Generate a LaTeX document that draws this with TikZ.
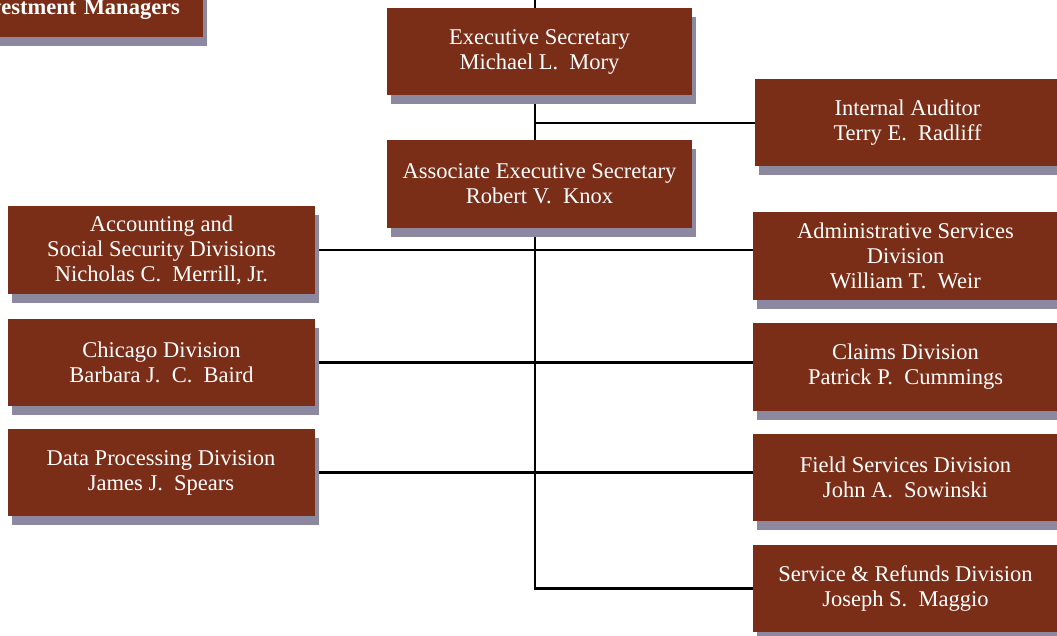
\documentclass[tikz,border=0pt]{standalone}
\usepackage{fontspec}
\setmainfont{Liberation Serif}
\usetikzlibrary{shadows,backgrounds}
\definecolor{boxbrown}{RGB}{122,46,24}
\definecolor{shadowgray}{RGB}{140,136,160}
\tikzset{
  orgbox/.style={rectangle, fill=boxbrown, text=white, align=center,
    minimum width=305pt, minimum height=87pt, inner sep=4pt,
    font=\fontsize{22.5}{25}\selectfont,
    drop shadow={shadow xshift=4pt, shadow yshift=-9pt, fill=shadowgray, opacity=1}},
  orgline/.style={line width=2.6pt, black}
}
\begin{document}
\begin{tikzpicture}[x=1pt, y=-1pt]
\path[use as bounding box, clip] (0,0) rectangle (1057,636);
\path (30,10) node[orgbox, text width=300pt, inner xsep=23pt, align=right, minimum height=54pt,
  font=\bfseries\fontsize{22.5}{25}\selectfont] (inv) {Investment Managers};
\path (539.5,51.5) node[orgbox] (exec) {Executive Secretary\\Michael L.\ \ Mory};
\path (539.5,184) node[orgbox, minimum height=88pt] (assoc) {Associate Executive Secretary\\Robert V.\ \ Knox};
\path (907.5,123) node[orgbox] (audit) {Internal Auditor\\Terry E.\ \ Radliff};
\path (161.5,250) node[orgbox, minimum width=307pt] (acct) {Accounting and\\Social Security Divisions\\Nicholas C.\ \ Merrill, Jr.};
\path (161.5,362.5) node[orgbox, minimum width=307pt] (chic) {Chicago Division\\Barbara J.\ \ C.\ \ Baird};
\path (161,472.5) node[orgbox, minimum width=307pt] (data) {Data Processing Division\\James J.\ \ Spears};
\path (905.5,256) node[orgbox, minimum height=88pt] (admin) {Administrative Services\\Division\\William T.\ \ Weir};
\path (905.5,367) node[orgbox, minimum height=88pt] (claims) {Claims Division\\Patrick P.\ \ Cummings};
\path (905.5,477.5) node[orgbox] (field) {Field Services Division\\John A.\ \ Sowinski};
\path (905.5,588.5) node[orgbox] (service) {Service \& Refunds Division\\Joseph S.\ \ Maggio};
\begin{scope}[on background layer]
\coordinate (top) at (535,0);
\coordinate (corner) at (535,588.5);
\draw[orgline] (top) -- (corner) -- (service.west);
\draw[orgline] (top |- audit.west) -- (audit.west);
\draw[orgline] (acct.east) -- (acct.east -| admin.west);
\draw[orgline] (chic.east) -- (chic.east -| claims.west);
\draw[orgline] (data.east) -- (data.east -| field.west);
\end{scope}
\end{tikzpicture}
\end{document}
